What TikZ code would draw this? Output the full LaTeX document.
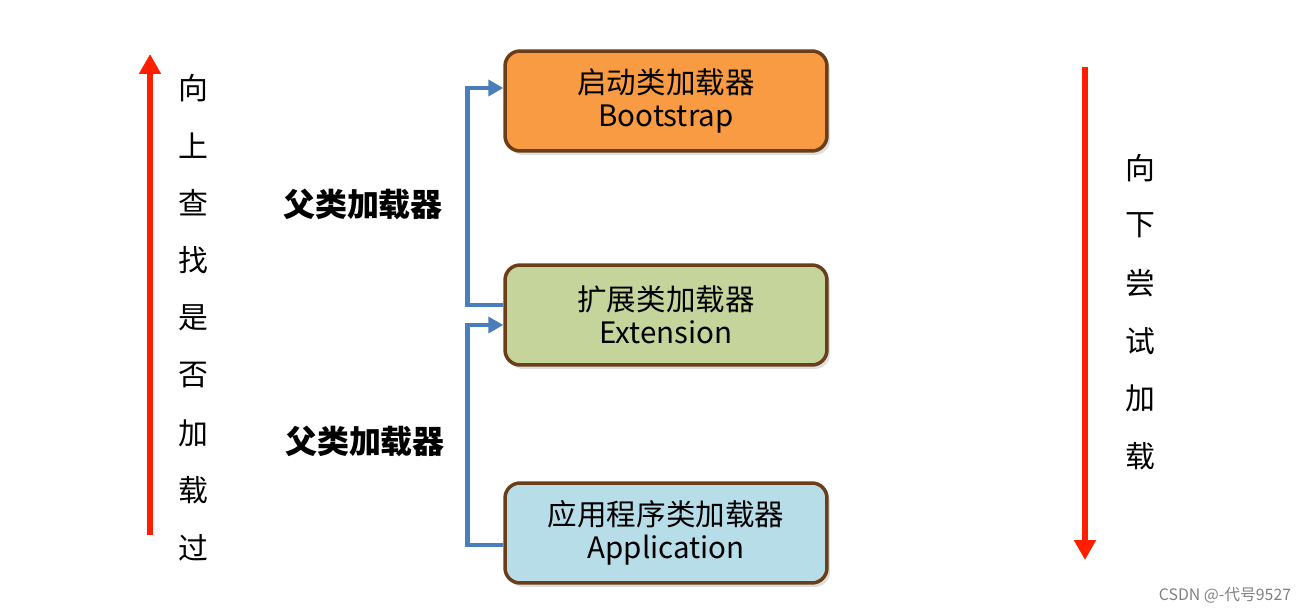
\documentclass[tikz,border=0pt]{standalone}
\usepackage{fontspec}
\setmainfont{Noto Sans CJK SC}
\usepackage{tikz}
\usetikzlibrary{arrows.meta, calc, shadows}

\definecolor{bootfill}{RGB}{249,155,66}
\definecolor{extfill}{RGB}{196,212,155}
\definecolor{appfill}{RGB}{183,221,232}
\definecolor{boxline}{RGB}{106,62,24}
\definecolor{linkblue}{RGB}{74,126,187}
\definecolor{arrowred}{RGB}{255,30,0}

\tikzset{
    loader/.style={draw=boxline, line width=0.07cm, rounded corners=0.3cm,
        minimum width=6.44cm, minimum height=2cm, align=center,
        font=\fontsize{16.8}{19}\selectfont,
        drop shadow={opacity=0.25, shadow xshift=0.06cm, shadow yshift=-0.08cm}},
    link/.style={draw=linkblue, line width=0.09cm,
        -{Triangle[width=0.32cm,length=0.3cm]}},
    bigarrow/.style={draw=arrowred, line width=0.12cm,
        -{Triangle[width=0.42cm,length=0.4cm]}},
    vtext/.style={font=\fontsize{17}{17}\selectfont},
    parent/.style={font=\fontsize{18.2}{18.2}\selectfont\bfseries}
}

\begin{document}
\begin{tikzpicture}[x=0.02cm, y=-0.02cm]
        \useasboundingbox (0,0) rectangle (1311,614);

        % Draw the three loaders
        \node[loader, fill=bootfill] (boot) at (666,101) {启动类加载器\\Bootstrap};
        \node[loader, fill=extfill] (ext) at (666,315) {扩展类加载器\\Extension};
        \node[loader, fill=appfill] (app) at (666,533) {应用程序类加载器\\Application};

        % Parent links
        \draw[link] ($(ext.west)+(0,-10)$) -- ++(-36,0) |- ($(boot.west)+(0,-13)$);
        \draw[link] ($(app.west)+(0,12)$) -- ++(-36,0) |- ($(ext.west)+(0,10)$);
        \node[parent] (p1) at (363,204) {父类加载器};
        \node[parent] (p2) at (365,441) {父类加载器};

        % Red arrows
        \coordinate (upstart) at (150,535);
        \coordinate (upend) at (150,54);
        \coordinate (downstart) at (1085,67);
        \coordinate (downend) at (1085,560);
        \draw[bigarrow] (upstart) -- (upend);
        \draw[bigarrow] (downstart) -- (downend);

        % Vertical texts
        \foreach \ch [count=\i] in {向,上,查,找,是,否,加,载,过} {
            \node[vtext] (up\i) at (193,{88+57.5*(\i-1)}) {\ch};
        }
        \foreach \ch [count=\i] in {向,下,尝,试,加,载} {
            \node[vtext] (down\i) at (1140,{168+57.6*(\i-1)}) {\ch};
        }

        % Watermark
        \node[font=\fontsize{9}{9}\selectfont, text=gray] (mark) at (1225,595) {CSDN @-代号9527};
    \end{tikzpicture}
\end{document}
